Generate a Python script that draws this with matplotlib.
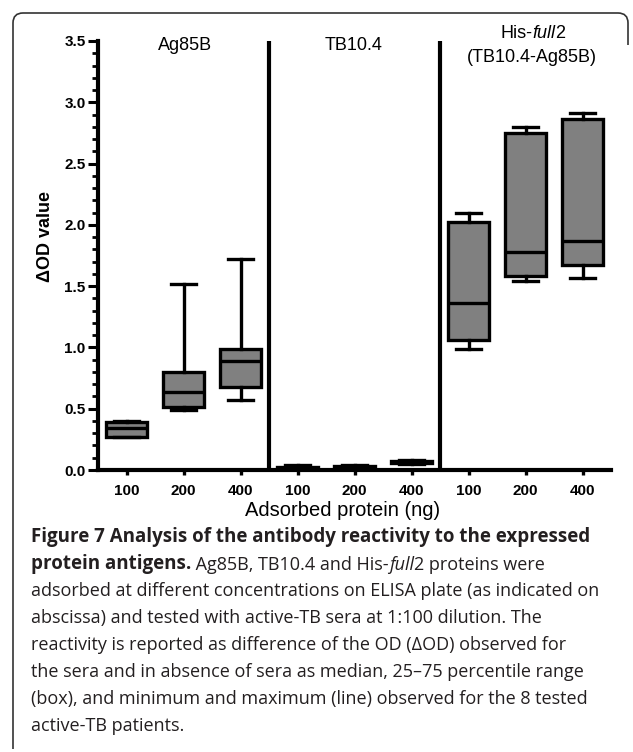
import matplotlib
matplotlib.use("Agg")
import matplotlib.pyplot as plt
from matplotlib.path import Path
from matplotlib.patches import PathPatch
from matplotlib.ticker import MultipleLocator

W, H = 633, 752

# ---- data: five-number summaries of dOD per antigen / amount ----
groups = ["Ag85B", "TB10.4", "His-full2"]
amounts = ["100", "200", "400", "100", "200", "400", "100", "200", "400"]
whis_lo = [0.27, 0.49, 0.57, 0.00, 0.01, 0.05, 0.99, 1.54, 1.57]
q1      = [0.27, 0.51, 0.68, 0.005, 0.012, 0.055, 1.06, 1.58, 1.67]
median  = [0.34, 0.64, 0.89, 0.015, 0.025, 0.065, 1.36, 1.78, 1.87]
q3      = [0.39, 0.80, 0.99, 0.025, 0.035, 0.075, 2.02, 2.75, 2.86]
whis_hi = [0.40, 1.52, 1.72, 0.040, 0.040, 0.080, 2.10, 2.80, 2.91]

y_ticks = [0.0, 0.5, 1.0, 1.5, 2.0, 2.5, 3.0, 3.5]

caption_lines = [
    "adsorbed at different concentrations on ELISA plate (as indicated on",
    "abscissa) and tested with active-TB sera at 1:100 dilution. The",
    "reactivity is reported as difference of the OD (\u0394OD) observed for",
    "the sera and in absence of sera as median, 25\u201375 percentile range",
    "(box), and minimum and maximum (line) observed for the 8 tested",
    "active-TB patients.",
]


def fx(px):
    return px / W


def fy(py):
    return 1 - py / H


plt.rcParams["font.family"] = ["Liberation Sans", "DejaVu Sans"]
fig = plt.figure(figsize=(W / 100, H / 100), dpi=100)
fig.patch.set_facecolor("white")

ax = fig.add_axes([fx(98), fy(470), fx(611) - fx(98), fy(41) - fy(470)])
ax.set_xlim(-0.5, 8.5)
ax.set_ylim(0, 3.5)

stats = []
for i in range(len(amounts)):
    stats.append(dict(med=median[i], q1=q1[i], q3=q3[i],
                      whislo=whis_lo[i], whishi=whis_hi[i], fliers=[]))

positions = list(range(len(amounts)))
lw = 2.4
ax.bxp(stats, positions=positions, widths=0.72, capwidths=0.45,
       patch_artist=True, showfliers=False, manage_ticks=False,
       boxprops=dict(facecolor="#808080", edgecolor="black", linewidth=lw),
       medianprops=dict(color="black", linewidth=lw),
       whiskerprops=dict(color="black", linewidth=lw),
       capprops=dict(color="black", linewidth=lw))

# group dividers
for xd in (2.5, 5.5):
    ax.axvline(xd, color="black", linewidth=3.0, zorder=5)

for s in ("top", "right"):
    ax.spines[s].set_visible(False)
for s in ("left", "bottom"):
    ax.spines[s].set_linewidth(3.0)

ax.set_yticks(y_ticks)
ax.set_yticklabels([f"{v:.1f}" for v in y_ticks], fontweight="bold", fontsize=11)
ax.yaxis.set_minor_locator(MultipleLocator(0.1))
ax.tick_params(axis="y", which="major", length=7.5, width=2.2, pad=1.5)
ax.tick_params(axis="y", which="minor", length=4.3, width=2.0)

ax.set_xticks(positions)
ax.set_xticklabels(amounts, fontweight="bold", fontsize=11)
ax.tick_params(axis="x", which="major", length=3.8, width=2.4, pad=6.5)

# group titles
fig.text(fx(185), fy(46), groups[0], ha="center", va="center", fontsize=13)
fig.text(fx(354), fy(46), groups[1], ha="center", va="center", fontsize=13)
t1 = fig.text(fx(500), fy(33), "His-", ha="left", va="center", fontsize=13)
t2 = ax.annotate("full", xy=(1, 0), xycoords=t1, ha="left", va="bottom",
                 fontsize=13, fontstyle="italic")
t3 = ax.annotate("2", xy=(1, 0), xycoords=t2, ha="left", va="bottom", fontsize=13)
fig.text(fx(532), fy(57), "(TB10.4-Ag85B)", ha="center", va="center", fontsize=13)

# axis labels
fig.text(fx(45), fy(236), "\u0394OD value", rotation=90, ha="center",
         va="center", fontsize=13, fontweight="bold")
fig.text(fx(343), fy(510), "Adsorbed protein (ng)", ha="center",
         va="center", fontsize=14.5)

# caption
cap_font = "Open Sans"
cap_bold = 13.5
cap_size = 13.0
cap_color = "#231f20"
x0 = fx(31)
line_y = [537, 564, 591, 618, 645, 672, 699, 726]
fig.text(x0, fy(line_y[0]), "Figure 7 Analysis of the antibody reactivity to the expressed",
         ha="left", va="center", fontsize=cap_bold, family=cap_font,
         fontweight="bold", color=cap_color)
c1 = fig.text(x0, fy(line_y[1]), "protein antigens.", ha="left", va="center",
              fontsize=cap_bold, family=cap_font, fontweight="bold", color=cap_color)
c2 = ax.annotate(" Ag85B, TB10.4 and His-", xy=(1, 0), xycoords=c1, ha="left",
                 va="bottom", fontsize=cap_size, family=cap_font, color=cap_color)
c3 = ax.annotate("full", xy=(1, 0), xycoords=c2, ha="left", va="bottom",
                 fontsize=cap_size, family=cap_font, fontstyle="italic", color=cap_color)
ax.annotate("2 proteins were", xy=(1, 0), xycoords=c3, ha="left", va="bottom",
            fontsize=cap_size, family=cap_font, color=cap_color)
for k, line in enumerate(caption_lines):
    fig.text(x0, fy(line_y[k + 2]), line, ha="left", va="center",
             fontsize=cap_size, family=cap_font, color=cap_color)

# rounded frame
r = 10
L, T, R, B, RB = 13, 13, 628, 749, 45
verts = [(L, B), (L, T + r), (L, T), (L + r, T), (R - r, T), (R, T), (R, T + r), (R, RB)]
codes = [Path.MOVETO, Path.LINETO, Path.CURVE3, Path.CURVE3, Path.LINETO,
         Path.CURVE3, Path.CURVE3, Path.LINETO]
verts = [(fx(a), fy(b)) for a, b in verts]
frame = PathPatch(Path(verts, codes), transform=fig.transFigure, fill=False,
                  edgecolor="#333333", linewidth=1.2)
fig.patches.append(frame)

fig.savefig("out.png", dpi=100, facecolor="white")
